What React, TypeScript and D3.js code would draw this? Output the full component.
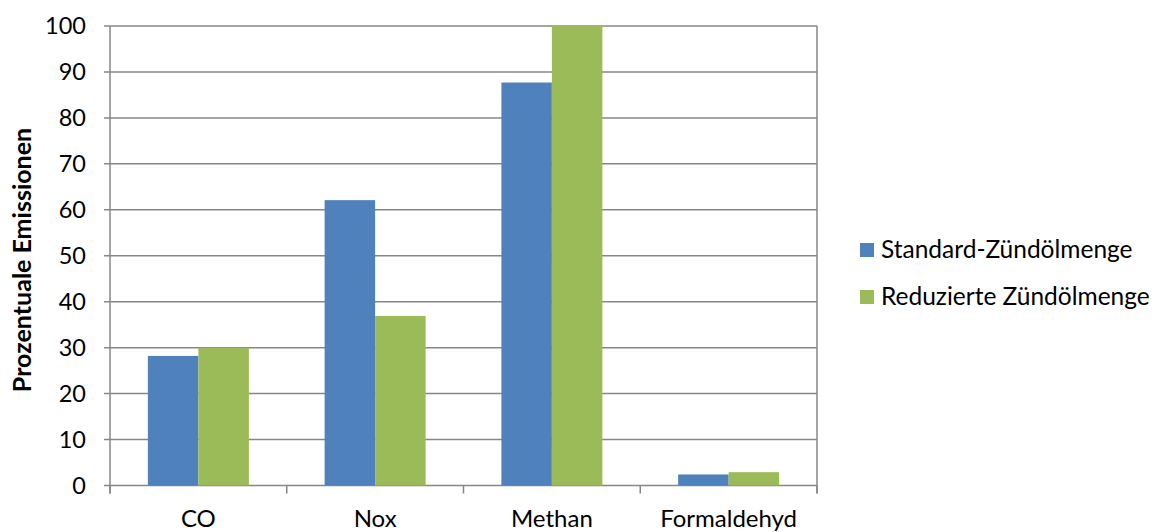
import React from "react";
import * as d3 from "d3";

const categories = ["CO", "Nox", "Methan", "Formaldehyd"];
const seriesNames = ["Standard-Zündölmenge", "Reduzierte Zündölmenge"];
const standardValues = [28.2, 62.1, 87.7, 2.4];
const reducedValues = [30.0, 36.9, 100.0, 2.9];
const yTicks = [0, 10, 20, 30, 40, 50, 60, 70, 80, 90, 100];
const colors = ["#4F81BD", "#9BBB59"];

const W = 1154;
const H = 532;
const left = 110;
const right = 817;
const top = 26;
const bottom = 485.5;
const FONT = "Lato, 'Open Sans', sans-serif";

export default function App() {
  const x = d3.scaleBand<string>().domain(categories).range([left, right]).paddingInner(0).paddingOuter(0);
  const inner = d3
    .scaleBand<string>()
    .domain(seriesNames)
    .range([0, x.bandwidth()])
    .paddingInner(0)
    .paddingOuter(0.75);
  const y = d3.scaleLinear().domain([0, 100]).range([bottom, top]);
  const series = [standardValues, reducedValues];
  const grid = "#878787";
  const catEdges = [...categories.map((c) => x(c) as number), right];

  return (
    <svg width={W} height={H} style={{ position: "absolute", left: 0, top: 0, background: "#fff" }}>
      {yTicks.map((t) => (
        <g key={t}>
          <line x1={left - 6} x2={right} y1={y(t)} y2={y(t)} stroke={grid} strokeWidth={1.5} />
          <text
            x={86}
            y={y(t)}
            dy="0.36em"
            textAnchor="end"
            fontFamily={FONT}
            fontSize={23.5}
            fill="#000"
          >
            {t}
          </text>
        </g>
      ))}
      <line x1={left} x2={left} y1={top} y2={bottom + 8} stroke={grid} strokeWidth={1.5} />
      <line x1={right} x2={right} y1={top} y2={bottom + 8} stroke={grid} strokeWidth={1.5} />
      {catEdges.map((e, i) => (
        <line key={i} x1={e} x2={e} y1={bottom} y2={bottom + 8} stroke={grid} strokeWidth={1.5} />
      ))}
      {categories.map((c, ci) =>
        seriesNames.map((s, si) => {
          const v = series[si][ci];
          const bx = (x(c) as number) + (inner(s) as number);
          return (
            <rect
              key={c + s}
              x={bx}
              y={y(v)}
              width={inner.bandwidth()}
              height={bottom - y(v)}
              fill={colors[si]}
            />
          );
        })
      )}
      {categories.map((c) => (
        <text
          key={c}
          x={(x(c) as number) + x.bandwidth() / 2}
          y={527}
          textAnchor="middle"
          fontFamily={FONT}
          fontSize={24}
          fill="#000"
        >
          {c}
        </text>
      ))}
      <text
        transform={`translate(31,260) rotate(-90)`}
        textAnchor="middle"
        fontFamily={FONT}
        fontWeight="bold"
        fontSize={25}
        fill="#000"
      >
        Prozentuale Emissionen
      </text>
      {seriesNames.map((s, i) => (
        <g key={s} transform={`translate(860,${243 + i * 47})`}>
          <rect x={0} y={0} width={14} height={14} fill={colors[i]} />
          <text x={21} y={15} fontFamily={FONT} fontSize={24.5} fill="#000">
            {s}
          </text>
        </g>
      ))}
    </svg>
  );
}
